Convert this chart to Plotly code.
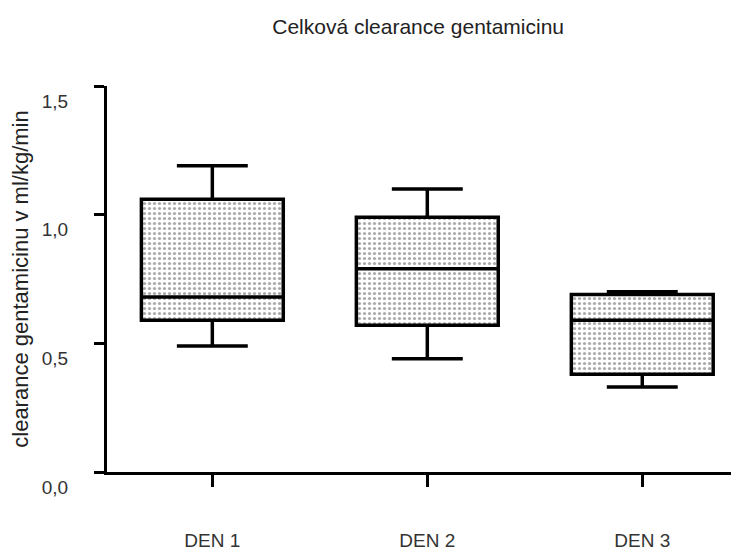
import plotly.graph_objects as go

categories = ["DEN 1", "DEN 2", "DEN 3"]
lower = [0.49, 0.44, 0.33]
q1 = [0.59, 0.57, 0.38]
median = [0.68, 0.79, 0.59]
q3 = [1.06, 0.99, 0.69]
upper = [1.19, 1.10, 0.70]

y_ticks = [0.0, 0.5, 1.0, 1.5]
y_ticktext = ["0,0", "0,5", "1,0", "1,5"]

fig = go.Figure()

# dotted fill of the boxes
fig.add_trace(go.Bar(
    x=categories,
    y=[b - a for a, b in zip(q1, q3)],
    base=q1,
    width=0.66,
    marker=dict(color="white", line=dict(width=0),
                pattern=dict(shape=".", fgcolor="#555555", bgcolor="white",
                             size=5, solidity=0.32)),
    hoverinfo="skip",
    showlegend=False,
))

fig.add_trace(go.Box(
    x=categories,
    q1=q1, median=median, q3=q3,
    lowerfence=lower, upperfence=upper,
    width=0.66,
    whiskerwidth=0.5,
    fillcolor="rgba(0,0,0,0)",
    line=dict(color="black", width=3.5),
    boxpoints=False,
    showlegend=False,
))

font_family = "Arial, Liberation Sans, sans-serif"

fig.update_layout(
    width=739, height=553,
    margin=dict(l=99, r=8, t=78, b=89),
    paper_bgcolor="white", plot_bgcolor="white",
    title=dict(text="Celková clearance gentamicinu", x=0.555, xanchor="center",
               y=0.966, yanchor="middle",
               font=dict(family=font_family, size=21, color="#222222")),
    font=dict(family=font_family, size=19, color="#222222"),
    barmode="overlay",
)

fig.update_xaxes(
    range=[-0.49, 2.45],
    automargin=False,
    showline=True, linecolor="black", linewidth=3,
    ticks="outside", ticklen=12, tickwidth=3, tickcolor="black",
    ticklabelstandoff=37,
    showgrid=False, zeroline=False,
    tickfont=dict(size=19, color="#333333"),
)

fig.update_yaxes(
    range=[0, 1.5],
    automargin=False,
    tickvals=y_ticks, ticktext=y_ticktext,
    showline=True, linecolor="black", linewidth=3,
    ticks="outside", ticklen=10, tickwidth=3, tickcolor="black",
    ticklabelstandoff=22, ticklabelshift=15,
    showgrid=False, zeroline=False,
    tickfont=dict(size=19, color="#333333"),
    title=dict(text="clearance gentamicinu v ml/kg/min", standoff=10,
               font=dict(size=22, color="#222222")),
)

fig.write_html("out.html")
